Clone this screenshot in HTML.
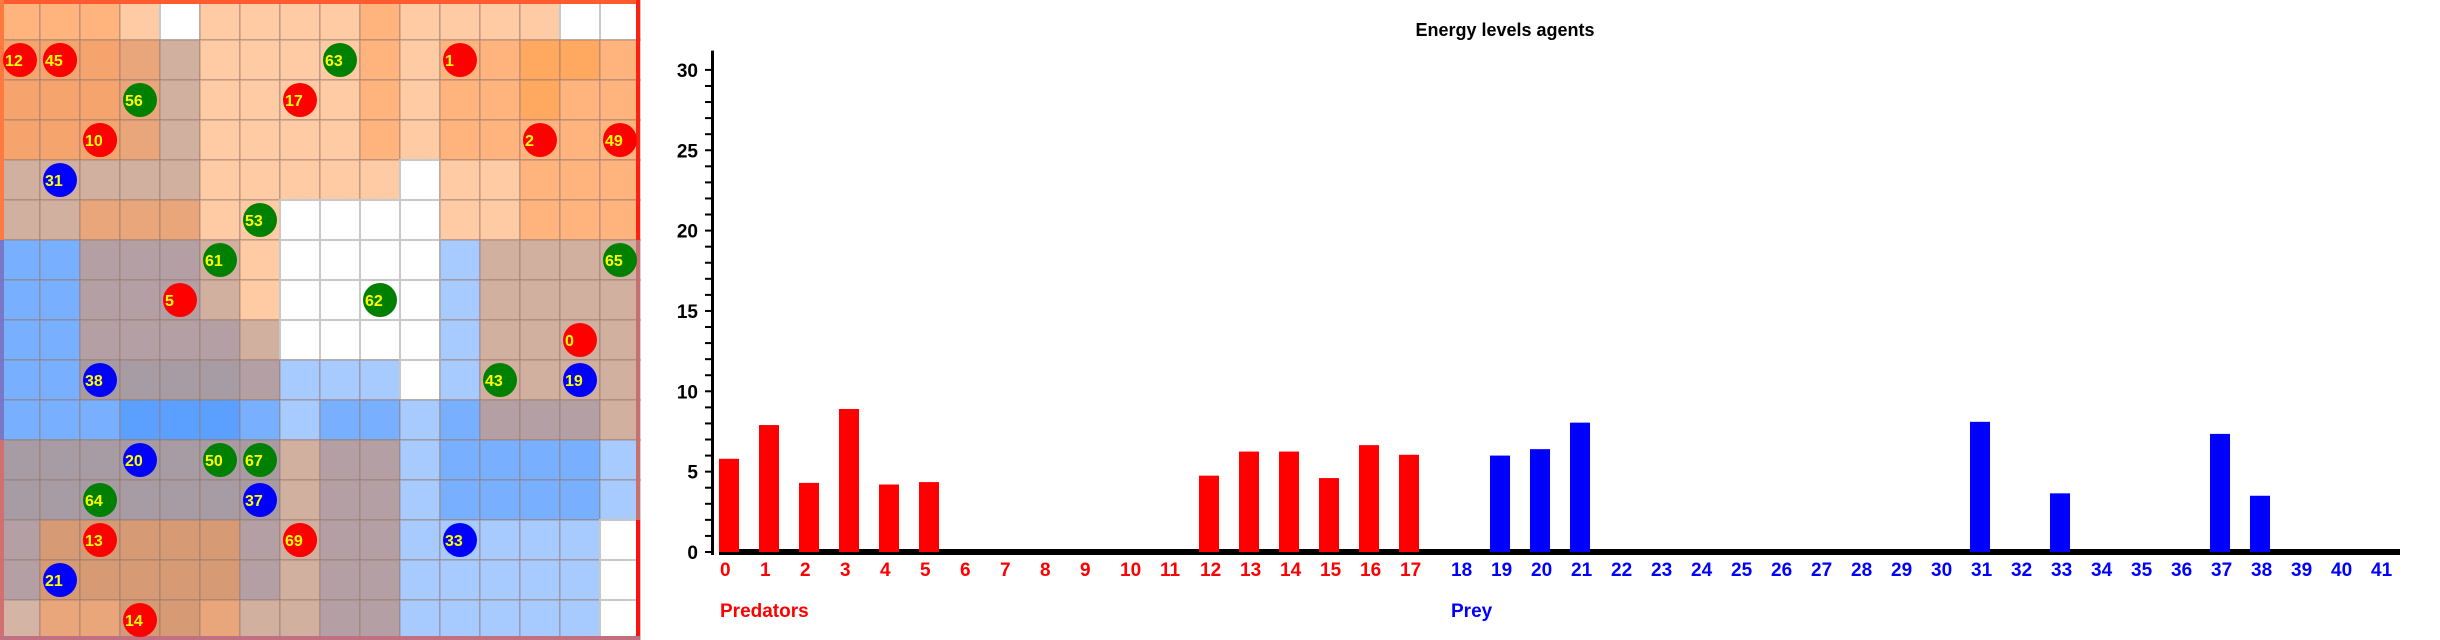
<!DOCTYPE html>
<html><head><meta charset="utf-8">
<style>
html,body{margin:0;padding:0;background:#fff;width:2440px;height:640px;overflow:hidden}
svg{display:block}
text{font-family:"Liberation Sans",sans-serif;font-weight:bold}
</style></head>
<body>
<svg id="root" width="2440" height="640" viewBox="0 0 2440 640" xmlns="http://www.w3.org/2000/svg">
<g id="grid"></g>
<g id="agents"></g>
<g id="chart"></g>
</svg>
<script>
// ---------- Grid ----------
const pal = {
  A:'#FFCBA4', B:'#FFB47E', C:'#F4A46C', D:'#E8A67A', E:'#D2B0A0', F:'#FFA860', W:'#FFFFFF',
  G:'#B4A0A4', M:'#A89CA4', L1:'#A8CBFF', L2:'#78B0FF', L3:'#5CA0FF', H:'#D69A74', P:'#D4B4A4'
};
const rows = [
 'B B B A W A A A A B A A A A W W',
 'C C C D E A A A A B A B B F F B',
 'C C C D E A A A A B A B B F B B',
 'C C C D E A A A A B A B B B B B',
 'E E E E E A A A A A W A A B B B',
 'E E D D D A A W W W W A A B B B',
 'L2 L2 G G G E A W W W W L1 E E E E',
 'L2 L2 G G G E A W W W W L1 E E E E',
 'L2 L2 G G G G E W W W W L1 E E E E',
 'L2 L2 M M M M G L1 L1 L1 W L1 E E E E',
 'L2 L2 L2 L3 L3 L3 L2 L1 L2 L2 L1 L2 G G G E',
 'M M M M M M M E G G L1 L2 L2 L2 L2 L1',
 'M M M M M M M E G G L1 L2 L2 L2 L2 L1',
 'G H H H H H G E G G L1 L1 L1 L1 L1 W',
 'G H H H H H G E G G L1 L1 L1 L1 L1 W',
 'P D D H H D E E G G L1 L1 L1 L1 L1 W'
];
const NS='http://www.w3.org/2000/svg';
const grid=document.getElementById('grid');
rows.forEach((r,ri)=>{
  r.split(' ').forEach((c,ci)=>{
    const rect=document.createElementNS(NS,'rect');
    rect.setAttribute('x',ci*40);rect.setAttribute('y',ri*40);
    rect.setAttribute('width',40);rect.setAttribute('height',40);
    rect.setAttribute('fill',pal[c]);
    rect.setAttribute('stroke',c==='W'?'#C8C8C8':'rgba(150,120,110,0.35)');
    rect.setAttribute('stroke-width',2);
    
    
    grid.appendChild(rect);
  });
});
// border
const borders=[
 ['M0 2 L640 2','#FF5A30'],
 ['M638 0 L638 240','#FF2010'],['M638 240 L638 520','#C87070'],['M638 520 L638 640','#FF1010'],
 ['M2 0 L2 240','#FF7A40'],['M2 240 L2 440','#7878C8'],['M2 440 L2 640','#D07070'],
 ['M0 638 L640 638','#C07080']
];
borders.forEach(b=>{
  const p=document.createElementNS(NS,'path');
  p.setAttribute('d',b[0]);p.setAttribute('stroke',b[1]);p.setAttribute('stroke-width',4);
  
  
  grid.appendChild(p);
});
// ---------- Agents ----------
const agentIds=['12','48','45','63','1','56','17','58','10','2','49','31','53','61','65','5','62','0','38','43','19','20','50','67','64','37','13','89','69','33','21','14'];
const agentCols=[0,1,1,8,11,3,7,2,2,13,15,1,6,5,15,4,9,14,2,12,14,3,5,6,2,6,2,7,7,11,1,3];
const agentRows=[1,1,1,1,1,2,2,3,3,3,3,4,5,6,6,7,7,8,9,9,9,11,11,11,12,12,13,13,13,13,14,15];
const agentKinds=['r','r','r','g','r','g','r','r','r','r','r','b','g','g','g','r','g','r','b','g','b','b','g','g','g','b','r','r','r','b','b','r'];
const kindColor={r:'#FF0000',g:'#008000',b:'#0000FF'};
const ag=document.getElementById('agents');
agentIds.forEach((id,i)=>{
  const cx=agentCols[i]*40+20, cy=agentRows[i]*40+20;
  const c=document.createElementNS(NS,'circle');
  c.setAttribute('cx',cx);c.setAttribute('cy',cy);c.setAttribute('r',17);
  c.setAttribute('fill',kindColor[agentKinds[i]]);
  
  
  ag.appendChild(c);
  const t=document.createElementNS(NS,'text');
  t.setAttribute('x',cx-15);t.setAttribute('y',cy+6);
  t.setAttribute('fill','#FFFF00');t.setAttribute('font-size','16');
  t.textContent=id;
  
  
  ag.appendChild(t);
});
// ---------- Chart ----------
const predCats=[0,1,2,3,4,5,6,7,8,9,10,11,12,13,14,15,16,17];
const predVals=[5.8,7.9,4.3,8.9,4.2,4.35,0,0,0,0,0,0,4.75,6.25,6.25,4.6,6.65,6.05];
const preyCats=[18,19,20,21,22,23,24,25,26,27,28,29,30,31,32,33,34,35,36,37,38,39,40,41];
const preyVals=[0,6.0,6.4,8.05,0,0,0,0,0,0,0,0,0,8.1,0,3.65,0,0,0,7.35,3.5,0,0,0];
const yTicks=[0,5,10,15,20,25,30];
const yMax=31.2;
const y0=552, pxPerUnit=16.07;
function yS(v){return y0-v*pxPerUnit;}
function xPred(i){return 719+40*i;}
function xPrey(i){return 1450+40*(i-18);}
const ch=document.getElementById('chart');
function add(tag,attrs,name,txt){
  const e=document.createElementNS(NS,tag);
  for(const k in attrs)e.setAttribute(k,attrs[k]);
  
  
  if(txt!==undefined)e.textContent=txt;
  ch.appendChild(e);return e;
}
add('text',{x:1505,y:36,'text-anchor':'middle','font-size':'18',fill:'#000'},'chart-title','Energy levels agents');
// y axis
add('rect',{x:711,y:yS(yMax),width:3,height:y0-yS(yMax)+3,fill:'#000'},'y-axis');
for(let v=0;v<=30;v++){
  add('rect',{x:705,y:yS(v)-1,width:7,height:2,fill:'#000'},'y-tick');
}
yTicks.forEach(v=>{
  add('text',{x:698,y:yS(v)+7,'text-anchor':'end','font-size':'19',fill:'#000'},'y-tick-label',String(v));
});
// x axis
add('rect',{x:719,y:549,width:1681,height:6,fill:'#000'},'x-axis');
predCats.forEach((c,i)=>{
  const x=xPred(c), v=predVals[i];
  if(v>0){add('rect',{x:x,y:yS(v),width:20,height:y0-3-yS(v)+3,fill:'#FF0000'},'bar-predator-'+c);}
  add('text',{x:x+1,y:576,'font-size':'19',fill:'#FF0000'},'x-tick-label',String(c));
});
preyCats.forEach((c,i)=>{
  const x=xPrey(c), v=preyVals[i];
  if(v>0){add('rect',{x:x,y:yS(v),width:20,height:y0-yS(v),fill:'#0000FF'},'bar-prey-'+c);}
  add('text',{x:x+1,y:576,'font-size':'19',fill:'#0000FF'},'x-tick-label',String(c));
});
add('text',{x:720,y:617,'font-size':'19',fill:'#FF0000'},'predators-group-label','Predators');
add('text',{x:1451,y:617,'font-size':'19',fill:'#0000FF'},'prey-group-label','Prey');
</script>
</body></html>
